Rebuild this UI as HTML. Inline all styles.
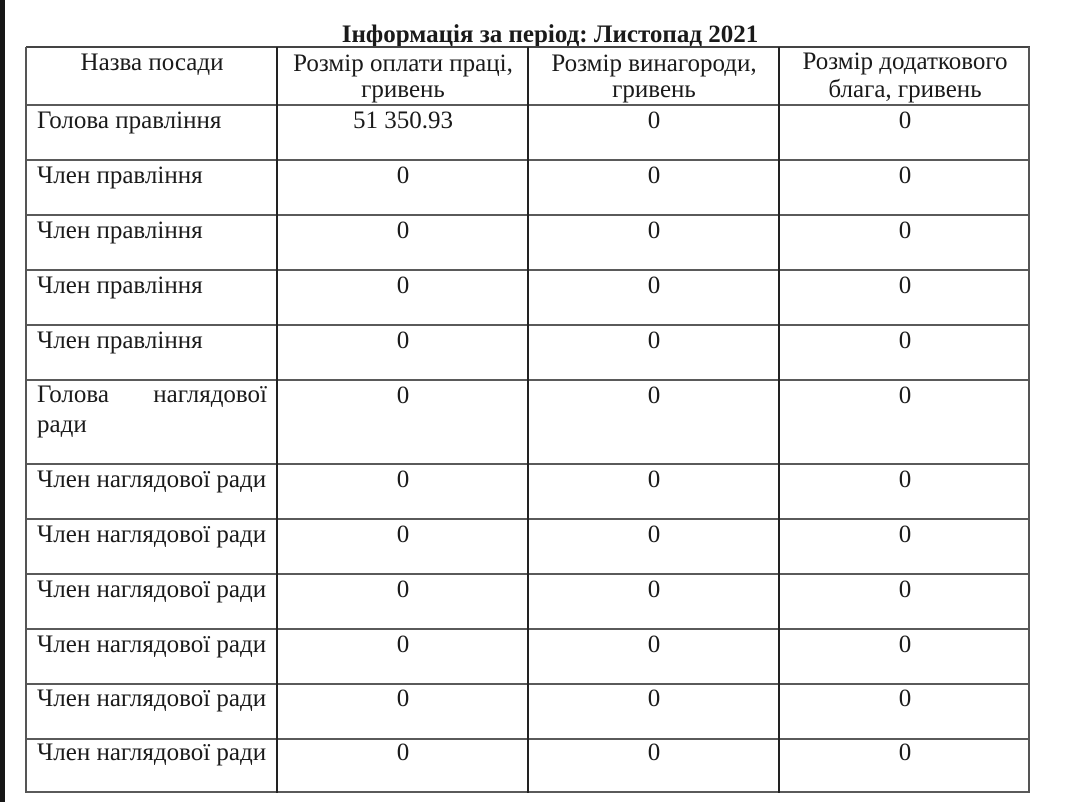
<!DOCTYPE html>
<html>
<head>
<meta charset="utf-8">
<style>
  html,body{margin:0;padding:0;}
  body{width:1078px;height:802px;background:#fff;position:relative;overflow:hidden;
       font-family:"Liberation Serif","Noto Serif CJK SC",serif;color:#1a1a1a;}
  .strip{position:absolute;left:0;top:0;width:5px;height:802px;background:#161616;}
  .h{position:absolute;left:26px;width:1004px;height:2px;background:#5a5a5a;}
  .v{position:absolute;top:47px;height:746px;width:2px;background:#222;}
  .t{position:absolute;font-size:25px;line-height:24px;white-space:nowrap;}
  .c{text-align:center;}
  .title{font-weight:bold;}
</style>
</head>
<body>
<div class="strip"></div>

<!-- title -->
<div class="t c title" style="left:300px;width:500px;top:23px;">Інформація за період: Листопад 2021</div>

<!-- horizontal lines -->
<div class="h" style="top:46px;background:#444;"></div>
<div class="h" style="top:104px;"></div>
<div class="h" style="top:159px;"></div>
<div class="h" style="top:214px;"></div>
<div class="h" style="top:269px;"></div>
<div class="h" style="top:324px;"></div>
<div class="h" style="top:379px;"></div>
<div class="h" style="top:463px;"></div>
<div class="h" style="top:518px;"></div>
<div class="h" style="top:573px;"></div>
<div class="h" style="top:628px;"></div>
<div class="h" style="top:683px;"></div>
<div class="h" style="top:738px;"></div>
<div class="h" style="top:791px;"></div>

<!-- vertical lines -->
<div class="v" style="left:25px;background:#555;"></div>
<div class="v" style="left:276px;"></div>
<div class="v" style="left:527px;"></div>
<div class="v" style="left:778px;"></div>
<div class="v" style="left:1028px;background:#555;"></div>

<!-- header -->
<div class="t c" style="left:27px;width:250px;top:51px;">Назва посади</div>
<div class="t c" style="left:278px;width:250px;top:52px;">Розмір оплати праці,</div>
<div class="t c" style="left:278px;width:250px;top:78px;">гривень</div>
<div class="t c" style="left:529px;width:250px;top:52px;">Розмір винагороди,</div>
<div class="t c" style="left:529px;width:250px;top:78px;">гривень</div>
<div class="t c" style="left:780px;width:250px;top:50px;">Розмір додаткового</div>
<div class="t c" style="left:780px;width:250px;top:78px;">блага, гривень</div>

<!-- row 1 -->
<div class="t" style="left:37px;top:109px;">Голова правління</div>
<div class="t c" style="left:278px;width:250px;top:109px;">51 350.93</div>
<div class="t c" style="left:529px;width:250px;top:109px;">0</div>
<div class="t c" style="left:780px;width:250px;top:109px;">0</div>

<!-- rows 2-5 -->
<div class="t" style="left:37px;top:164px;">Член правління</div>
<div class="t c" style="left:278px;width:250px;top:164px;">0</div>
<div class="t c" style="left:529px;width:250px;top:164px;">0</div>
<div class="t c" style="left:780px;width:250px;top:164px;">0</div>

<div class="t" style="left:37px;top:219px;">Член правління</div>
<div class="t c" style="left:278px;width:250px;top:219px;">0</div>
<div class="t c" style="left:529px;width:250px;top:219px;">0</div>
<div class="t c" style="left:780px;width:250px;top:219px;">0</div>

<div class="t" style="left:37px;top:274px;">Член правління</div>
<div class="t c" style="left:278px;width:250px;top:274px;">0</div>
<div class="t c" style="left:529px;width:250px;top:274px;">0</div>
<div class="t c" style="left:780px;width:250px;top:274px;">0</div>

<div class="t" style="left:37px;top:329px;">Член правління</div>
<div class="t c" style="left:278px;width:250px;top:329px;">0</div>
<div class="t c" style="left:529px;width:250px;top:329px;">0</div>
<div class="t c" style="left:780px;width:250px;top:329px;">0</div>

<!-- row 6 (two lines) -->
<div class="t" style="left:37px;top:383px;">Голова</div>
<div class="t" style="left:37px;width:230px;top:383px;text-align:right;">наглядової</div>
<div class="t" style="left:37px;top:413px;">ради</div>
<div class="t c" style="left:278px;width:250px;top:384px;">0</div>
<div class="t c" style="left:529px;width:250px;top:384px;">0</div>
<div class="t c" style="left:780px;width:250px;top:384px;">0</div>

<!-- rows 7-12 -->
<div class="t" style="left:37px;top:468px;">Член наглядової ради</div>
<div class="t c" style="left:278px;width:250px;top:468px;">0</div>
<div class="t c" style="left:529px;width:250px;top:468px;">0</div>
<div class="t c" style="left:780px;width:250px;top:468px;">0</div>

<div class="t" style="left:37px;top:523px;">Член наглядової ради</div>
<div class="t c" style="left:278px;width:250px;top:523px;">0</div>
<div class="t c" style="left:529px;width:250px;top:523px;">0</div>
<div class="t c" style="left:780px;width:250px;top:523px;">0</div>

<div class="t" style="left:37px;top:578px;">Член наглядової ради</div>
<div class="t c" style="left:278px;width:250px;top:578px;">0</div>
<div class="t c" style="left:529px;width:250px;top:578px;">0</div>
<div class="t c" style="left:780px;width:250px;top:578px;">0</div>

<div class="t" style="left:37px;top:633px;">Член наглядової ради</div>
<div class="t c" style="left:278px;width:250px;top:633px;">0</div>
<div class="t c" style="left:529px;width:250px;top:633px;">0</div>
<div class="t c" style="left:780px;width:250px;top:633px;">0</div>

<div class="t" style="left:37px;top:687px;">Член наглядової ради</div>
<div class="t c" style="left:278px;width:250px;top:687px;">0</div>
<div class="t c" style="left:529px;width:250px;top:687px;">0</div>
<div class="t c" style="left:780px;width:250px;top:687px;">0</div>

<div class="t" style="left:37px;top:741px;">Член наглядової ради</div>
<div class="t c" style="left:278px;width:250px;top:741px;">0</div>
<div class="t c" style="left:529px;width:250px;top:741px;">0</div>
<div class="t c" style="left:780px;width:250px;top:741px;">0</div>

</body>
</html>
